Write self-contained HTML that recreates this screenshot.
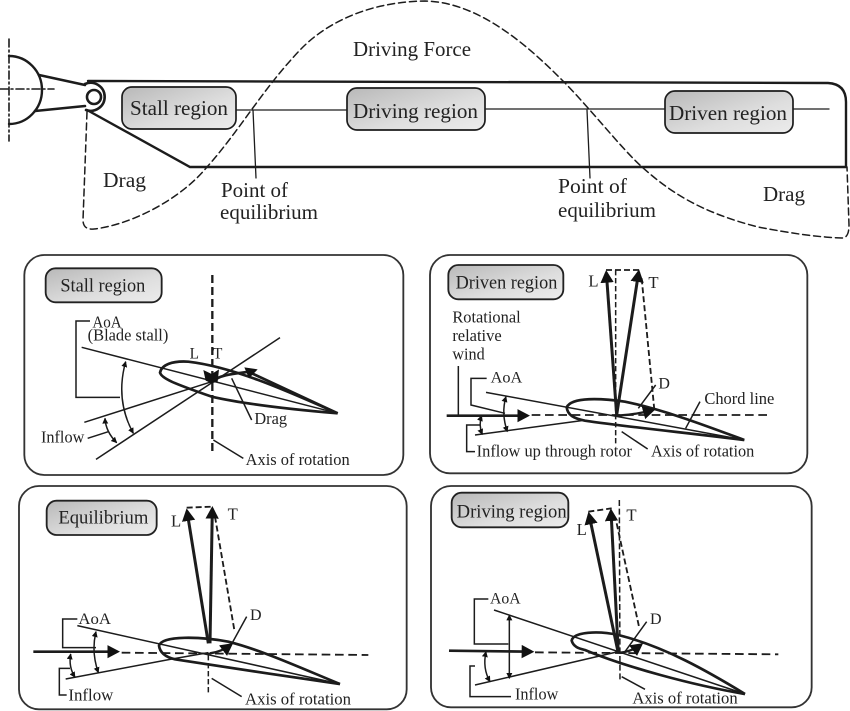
<!DOCTYPE html>
<html><head><meta charset="utf-8"><style>
html,body{margin:0;padding:0;background:#fff;width:850px;height:711px;overflow:hidden}
svg{display:block;filter:blur(.35px)}
text{font-family:"Liberation Serif",serif;fill:#222}
</style></head><body>
<svg width="850" height="711" viewBox="0 0 850 711" xmlns="http://www.w3.org/2000/svg">
<defs>
<linearGradient id="g" x1="0" y1="0" x2="1" y2="1"><stop offset="0" stop-color="#b8b8b8"/><stop offset=".6" stop-color="#dedede"/><stop offset="1" stop-color="#ececec"/></linearGradient>
<marker id="big" markerUnits="userSpaceOnUse" markerWidth="50" markerHeight="50" refX="30" refY="20" orient="auto"><polygon points="0,0 38,20 0,40" fill="#111"/></marker>
<marker id="sm" markerUnits="userSpaceOnUse" markerWidth="24" markerHeight="24" refX="16" refY="9" orient="auto-start-reverse"><polygon points="0,0 18,9 0,18" fill="#111"/></marker>
</defs>

<!-- Top blade -->
<g fill="none" stroke="#1c1c1c" stroke-linecap="round">
<path d="M9 56 A33 34 0 0 1 9 124" stroke-width="2.4"/>
<path d="M9 39V141" stroke-width="1.6" stroke-dasharray="8 3 2 3"/>
<path d="M0 89H54" stroke-width="1.6" stroke-dasharray="8 3 2 3"/>
<path d="M39 75L85 85M35 111L85 106" stroke-width="2.6"/>
<path d="M85 84A14 14 0 1 1 86 110" stroke-width="2.6"/>
<circle cx="94" cy="97" r="7" stroke-width="2.6"/>
<path d="M88 81L828 83Q846 84 846 102V167H190L87 110" stroke-width="2.4"/>
<path d="M236 110H347M486 109H665M793 109H829" stroke-width="1.3"/>
<path d="M253 110L256 178M587 110L590 178" stroke-width="1.3"/>
<path d="M87 112L83 220Q83 230 94 229C130 225 180 200 207 167C240 130 262 90 300 50C320 29 360 2 425 1C480 2 530 48 562 80C590 108 620 147 642 167C670 192 700 212 758 227C790 233 815 237 842 238Q849 238 849 225L847 167" stroke-width="1.5" stroke-dasharray="7 4"/>
</g>
<g stroke="#1c1c1c" stroke-width="1.7" fill="url(#g)">
<rect x="122" y="87" width="114" height="42" rx="10"/>
<rect x="347" y="88" width="138" height="42" rx="10"/>
<rect x="665" y="91" width="128" height="42" rx="10"/>
</g>
<text x="130" y="115" font-size="21" textLength="98" lengthAdjust="spacingAndGlyphs">Stall region</text>
<text x="353" y="118" font-size="21.5" textLength="125" lengthAdjust="spacingAndGlyphs">Driving region</text>
<text x="669" y="120" font-size="21" textLength="118" lengthAdjust="spacingAndGlyphs">Driven region</text>
<text x="353" y="56" font-size="21.5" textLength="118" lengthAdjust="spacingAndGlyphs">Driving Force</text>
<text x="103" y="187" font-size="21" textLength="43" lengthAdjust="spacingAndGlyphs">Drag</text>
<text x="763" y="201" font-size="21" textLength="42" lengthAdjust="spacingAndGlyphs">Drag</text>
<text x="221" y="197" font-size="21" textLength="67" lengthAdjust="spacingAndGlyphs">Point of</text>
<text x="220" y="219" font-size="21" textLength="98" lengthAdjust="spacingAndGlyphs">equilibrium</text>
<text x="558" y="193" font-size="21" textLength="69" lengthAdjust="spacingAndGlyphs">Point of</text>
<text x="558" y="217" font-size="21" textLength="98" lengthAdjust="spacingAndGlyphs">equilibrium</text>

<!-- Stall panel -->
<g transform="translate(15,250) scale(.33333)">
<rect x="28" y="15" width="1137" height="660" rx="60" fill="#fff" stroke="#333" stroke-width="5.5"/>
<rect x="92" y="55" width="348" height="102" rx="30" fill="url(#g)" stroke="#222" stroke-width="5.5"/>
<g fill="none" stroke="#1c1c1c">
<path d="M592 75V605" stroke-width="7" stroke-dasharray="24 12"/>
<path d="M968 490C800 415 650 350 520 335C470 332 440 345 435 368C440 385 470 398 590 440C700 465 850 480 968 490" stroke-width="8"/>
<path d="M200 292L968 490M208 517L590 395M243 628L795 263" stroke-width="4.5"/>
<path d="M225 213H183V442H315M218 565L280 545M710 510L650 385M595 570L685 625" stroke-width="4.5"/>
<path d="M332 335Q300 450 355 550" stroke-width="4.5" marker-start="url(#sm)" marker-end="url(#sm)"/>
<path d="M270 505Q272 545 305 578" stroke-width="4.5" marker-start="url(#sm)" marker-end="url(#sm)"/>
<path d="M590 395C620 370 680 370 700 365" stroke-width="8"/>
<path d="M700 365L968 490" stroke-width="8"/>
</g>
<polygon points="565,360 590,372 612,358 608,395 590,400 572,392" fill="#111"/>
<polygon points="688,352 728,358 702,385" fill="#111"/>
<text x="232" y="232" font-size="50" textLength="88" lengthAdjust="spacingAndGlyphs">AoA</text>
<text x="218" y="272" font-size="52" textLength="242" lengthAdjust="spacingAndGlyphs">(Blade stall)</text>
<text x="524" y="326" font-size="46">L</text><text x="594" y="326" font-size="46">T</text>
<text x="718" y="522" font-size="50" textLength="98" lengthAdjust="spacingAndGlyphs">Drag</text>
<text x="78" y="578" font-size="52" textLength="130" lengthAdjust="spacingAndGlyphs">Inflow</text>
<text x="692" y="645" font-size="52" textLength="312" lengthAdjust="spacingAndGlyphs">Axis of rotation</text>
<text x="136" y="125" font-size="56" textLength="255" lengthAdjust="spacingAndGlyphs">Stall region</text>
</g>

<!-- Driven panel -->
<g transform="translate(425,250) scale(.33333)">
<rect x="15" y="15" width="1132" height="655" rx="60" fill="#fff" stroke="#333" stroke-width="5.5"/>
<rect x="70" y="45" width="345" height="103" rx="30" fill="url(#g)" stroke="#222" stroke-width="5.5"/>
<g fill="none" stroke="#1c1c1c">
<path d="M320 495H1035" stroke-width="5.5" stroke-dasharray="26 14"/>
<path d="M572 60V580" stroke-width="4.5" stroke-dasharray="16 8"/>
<path d="M543 60H645M650 85L688 480" stroke-width="5.5" stroke-dasharray="18 9"/>
<path d="M958 570C850 530 720 480 600 455C530 445 440 440 425 472C428 495 445 505 480 512C600 530 800 550 958 570" stroke-width="8"/>
<path d="M183 427L958 570M150 555L470 512M100 348V495M185 385H138V465L240 490M165 525H125V605H150M590 545L668 597M825 455L782 535M692 405L640 475" stroke-width="4.5"/>
<path d="M243 440Q228 490 247 545" stroke-width="4.5" marker-start="url(#sm)" marker-end="url(#sm)"/>
<path d="M170 497Q160 525 172 553" stroke-width="4.5" marker-start="url(#sm)" marker-end="url(#sm)"/>
<path d="M65 497H307" stroke-width="8" marker-end="url(#big)"/>
<path d="M575 495L544 68" stroke-width="9" marker-end="url(#big)"/>
<path d="M575 495L641 66" stroke-width="9" marker-end="url(#big)"/>
<path d="M575 497Q630 495 684 480" stroke-width="7" marker-end="url(#big)"/>
</g>
<text x="92" y="115" font-size="56" textLength="305" lengthAdjust="spacingAndGlyphs">Driven region</text>
<text x="82" y="218" font-size="52" textLength="205" lengthAdjust="spacingAndGlyphs">Rotational</text>
<text x="82" y="273" font-size="52" textLength="148" lengthAdjust="spacingAndGlyphs">relative</text>
<text x="82" y="328" font-size="52" textLength="97" lengthAdjust="spacingAndGlyphs">wind</text>
<text x="490" y="110" font-size="50">L</text><text x="670" y="114" font-size="50">T</text>
<text x="197" y="398" font-size="48" textLength="95" lengthAdjust="spacingAndGlyphs">AoA</text>
<text x="700" y="416" font-size="48">D</text>
<text x="838" y="462" font-size="50" textLength="210" lengthAdjust="spacingAndGlyphs">Chord line</text>
<text x="155" y="620" font-size="51" textLength="466" lengthAdjust="spacingAndGlyphs">Inflow up through rotor</text>
<text x="678" y="620" font-size="52" textLength="310" lengthAdjust="spacingAndGlyphs">Axis of rotation</text>
</g>

<!-- Equilibrium panel -->
<g transform="translate(15,480) scale(.33333)">
<rect x="12" y="18" width="1163" height="670" rx="60" fill="#fff" stroke="#333" stroke-width="5.5"/>
<rect x="95" y="62" width="330" height="103" rx="30" fill="url(#g)" stroke="#222" stroke-width="5.5"/>
<g fill="none" stroke="#1c1c1c">
<path d="M320 518L1060 525" stroke-width="5.5" stroke-dasharray="26 14"/>
<path d="M580 525V645" stroke-width="4.5" stroke-dasharray="16 8"/>
<path d="M515 83L592 80M600 110L658 450" stroke-width="5.5" stroke-dasharray="18 9"/>
<path d="M975 612C860 565 740 510 640 485C560 470 440 465 432 497C435 520 455 532 480 538C620 560 820 590 975 612" stroke-width="8"/>
<path d="M187 437L975 612M152 597L465 538L580 518M187 417H143V503H243M165 565H133V645H155M590 595L680 650M695 410L640 510" stroke-width="4.5"/>
<path d="M243 455Q228 515 250 578" stroke-width="4.5" marker-start="url(#sm)" marker-end="url(#sm)"/>
<path d="M167 522Q160 560 180 592" stroke-width="4.5" marker-start="url(#sm)" marker-end="url(#sm)"/>
<path d="M55 515H307" stroke-width="8" marker-end="url(#big)"/>
<path d="M580 490L516 93" stroke-width="9" marker-end="url(#big)"/>
<path d="M585 490L592 86" stroke-width="9" marker-end="url(#big)"/>
<path d="M585 520Q620 515 648 494" stroke-width="7" marker-end="url(#big)"/>
</g>
<text x="130" y="130" font-size="56" textLength="270" lengthAdjust="spacingAndGlyphs">Equilibrium</text>
<text x="468" y="140" font-size="50">L</text><text x="638" y="118" font-size="50">T</text>
<text x="190" y="432" font-size="48" textLength="98" lengthAdjust="spacingAndGlyphs">AoA</text>
<text x="705" y="420" font-size="48">D</text>
<text x="160" y="662" font-size="52" textLength="135" lengthAdjust="spacingAndGlyphs">Inflow</text>
<text x="690" y="674" font-size="52" textLength="318" lengthAdjust="spacingAndGlyphs">Axis of rotation</text>
</g>

<!-- Driving panel -->
<g transform="translate(425,480) scale(.33333)">
<rect x="18" y="18" width="1142" height="664" rx="60" fill="#fff" stroke="#333" stroke-width="5.5"/>
<rect x="80" y="38" width="350" height="104" rx="30" fill="url(#g)" stroke="#222" stroke-width="5.5"/>
<g fill="none" stroke="#1c1c1c">
<path d="M330 517L1060 523" stroke-width="5.5" stroke-dasharray="26 14"/>
<path d="M583 60L585 600" stroke-width="4.5" stroke-dasharray="18 8"/>
<path d="M490 95L560 85M575 130L642 440" stroke-width="5.5" stroke-dasharray="18 9"/>
<path d="M960 642C850 575 720 500 580 465C520 452 445 455 440 482C445 500 460 505 480 510C600 560 800 615 960 642" stroke-width="8"/>
<path d="M207 390L960 642M150 615L580 515M190 357H148V492H250M150 558H135V650H258M590 590L660 628M665 425L600 515" stroke-width="4.5"/>
<path d="M253 405V595" stroke-width="4.5" marker-start="url(#sm)" marker-end="url(#sm)"/>
<path d="M183 515Q172 565 195 605" stroke-width="4.5" marker-start="url(#sm)" marker-end="url(#sm)"/>
<path d="M72 512L320 515" stroke-width="8" marker-end="url(#big)"/>
<path d="M580 520L492 103" stroke-width="9" marker-end="url(#big)"/>
<path d="M580 520L558 93" stroke-width="9" marker-end="url(#big)"/>
<path d="M585 518Q620 515 648 494" stroke-width="7" marker-end="url(#big)"/>
</g>
<text x="95" y="112" font-size="57" textLength="330" lengthAdjust="spacingAndGlyphs">Driving region</text>
<text x="455" y="165" font-size="50">L</text><text x="604" y="122" font-size="50">T</text>
<text x="195" y="370" font-size="48" textLength="92" lengthAdjust="spacingAndGlyphs">AoA</text>
<text x="675" y="432" font-size="48">D</text>
<text x="270" y="658" font-size="52" textLength="130" lengthAdjust="spacingAndGlyphs">Inflow</text>
<text x="622" y="670" font-size="52" textLength="316" lengthAdjust="spacingAndGlyphs">Axis of rotation</text>
</g>
</svg>
</body></html>
